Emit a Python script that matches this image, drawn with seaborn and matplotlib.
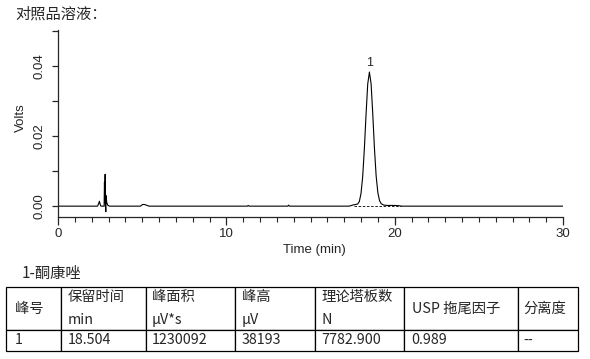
import matplotlib
matplotlib.use("Agg")
import matplotlib.pyplot as plt
from matplotlib.ticker import MultipleLocator, FormatStrFormatter
import pandas as pd
import seaborn as sns

# chromatogram trace (time in min, signal in volts)
time_min = [0.0, 2.35, 2.42, 2.46, 2.50, 2.55, 2.74, 2.76, 2.78, 2.80, 2.82,
            2.84, 2.86, 2.89, 2.95, 3.05, 4.90, 5.00, 5.10, 5.25, 5.40,
            11.25, 11.30, 11.35, 13.65, 13.70, 13.75,
            17.30, 17.50, 17.80, 17.90, 18.00, 18.10, 18.20, 18.30, 18.40,
            18.50, 18.60, 18.70, 18.80, 18.90, 19.00, 19.10, 19.20, 19.35,
            19.60, 20.00, 20.30, 20.40, 30.0]
volts = [0.0, 0.0, 0.0008, 0.0014, 0.0006, 0.0, 0.0, 0.0069, 0.0010, 0.0091, 0.0,
         -0.0016, 0.0030, 0.0012, 0.0003, 0.0, 0.0, 0.0004, 0.0005, 0.0003, 0.0,
         0.0, 0.0002, 0.0, 0.0, 0.0003, 0.0,
         0.0, 0.0003, 0.0006, 0.0013, 0.0036, 0.0084, 0.0164, 0.0262, 0.0349,
         0.0383, 0.0349, 0.0262, 0.0164, 0.0086, 0.0039, 0.0016, 0.0007, 0.0003,
         0.0002, 0.0002, 0.0001, 0.0, 0.0]

# integration baseline under peak 1
base_t = [17.6, 20.4]
base_v = [0.0, 0.0]

peak_names = ["1"]
peak_rt = [18.5]
peak_top = [0.0383]

table_title = "1-酮康唑"
col_head = ["峰号", "保留时间\nmin", "峰面积\nµV*s", "峰高\nµV",
            "理论塔板数\nN", "USP 拖尾因子", "分离度"]
row_vals = ["1", "18.504", "1230092", "38193", "7782.900", "0.989", "--"]

# column widths and text padding in pixels
col_px = [55, 85, 89, 80, 89, 114, 60]
pad_px = [9, 7, 6, 6.5, 6, 7.5, 5.5]

sns.set_style("ticks")
plt.rcParams["font.family"] = ["Liberation Sans", "Noto Sans CJK SC", "DejaVu Sans"]
cjk = ["Noto Sans CJK SC", "DejaVu Sans"]

W, H = 590, 359
fig = plt.figure(figsize=(W / 100, H / 100), dpi=100)
ax = fig.add_axes([58 / W, 142 / H, 505 / W, 187 / H])

df = pd.DataFrame({"t": time_min, "v": volts})
sns.lineplot(data=df, x="t", y="v", ax=ax, color="black", lw=0.8)
sns.lineplot(x=base_t, y=base_v, ax=ax, color="black", lw=0.6, linestyle=(0, (3, 2)))

for name, rt, top in zip(peak_names, peak_rt, peak_top):
    ax.annotate(name, (rt, top), xytext=(0, 2), textcoords="offset points",
                ha="center", va="bottom", fontsize=9)

ax.set_xlim(0, 30)
ax.set_ylim(-0.0031, 0.0503)
sns.despine(ax=ax)
for sp in ax.spines.values():
    sp.set_linewidth(0.9)

ax.xaxis.set_major_locator(MultipleLocator(10))
ax.xaxis.set_minor_locator(MultipleLocator(1))
ax.yaxis.set_major_locator(MultipleLocator(0.02))
ax.yaxis.set_minor_locator(MultipleLocator(0.01))
ax.yaxis.set_major_formatter(FormatStrFormatter("%.2f"))
ax.tick_params(axis="x", which="major", length=6, width=0.9, labelsize=9.5, pad=2)
ax.tick_params(axis="x", which="minor", length=3.5, width=0.8)
ax.tick_params(axis="y", which="both", length=4, width=0.9)
ax.tick_params(axis="y", labelsize=9.5, labelrotation=90, pad=5)
for lab in ax.get_yticklabels():
    lab.set_va("center")

ax.set_xlabel("Time (min)", fontsize=9.5)
ax.set_ylabel("Volts", fontsize=9.5)
ax.xaxis.set_label_coords(0.507, -0.145)
ax.yaxis.set_label_coords(-0.062, 0.53)

fig.text(15 / W, 1 - 14 / H, "对照品溶液：", fontsize=11, family=cjk,
         ha="left", va="center")
fig.text(22 / W, 1 - 273 / H, table_title, fontsize=11, family=cjk,
         ha="left", va="center")

tab_ax = fig.add_axes([6 / W, 8 / H, 572 / W, 64 / H])
tab_ax.axis("off")
tbl = tab_ax.table(cellText=[row_vals], colLabels=col_head,
                   colWidths=[w / sum(col_px) for w in col_px],
                   cellLoc="left", colLoc="left", bbox=[0, 0, 1, 1])
tbl.auto_set_font_size(False)
for (r, c), cell in tbl.get_celld().items():
    cell.set_height(43 if r == 0 else 21)
    cell.set_linewidth(0.9)
    cell.set_edgecolor("black")
    cell.PAD = pad_px[c] / col_px[c]
    txt = cell.get_text()
    txt.set_fontfamily(cjk)
    txt.set_fontsize(10.3)
    txt.set_linespacing(1.75)
    txt.set_multialignment("left")

fig.savefig("out.png", dpi=100)
